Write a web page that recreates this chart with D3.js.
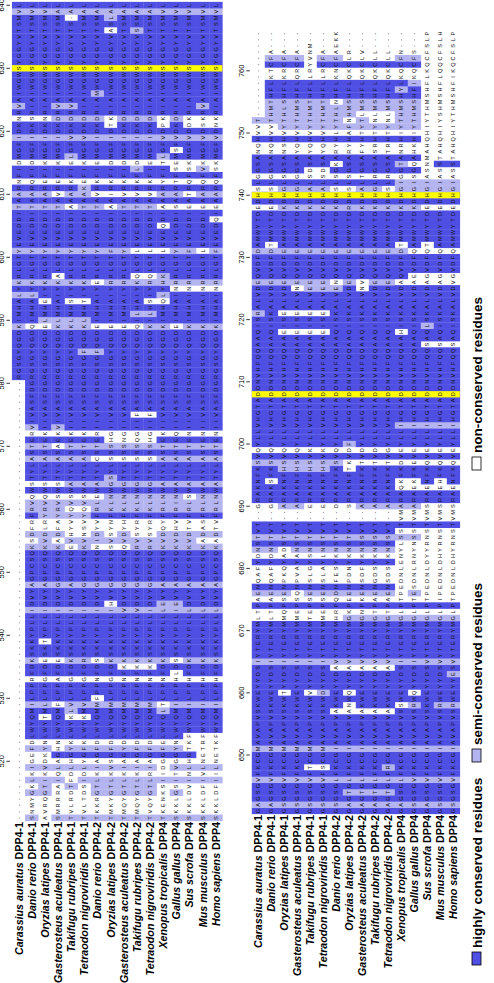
<!DOCTYPE html>
<html><head><meta charset="utf-8">
<script src="https://cdn.jsdelivr.net/npm/d3@7"></script>
<style>body{margin:0;background:#fff}svg{display:block}</style>
</head><body>
<svg id="c" width="494" height="983"></svg>
<script>
// ---------- DATA ----------
const speciesNames = ["Carassius auratus","Danio rerio","Oryzias latipes","Gasterosteus aculeatus","Takifugu rubripes","Tetraodon nigroviridis","Danio rerio","Oryzias latipes","Gasterosteus aculeatus","Takifugu rubripes","Tetraodon nigroviridis","Xenopus tropicalis","Gallus gallus","Sus scrofa","Mus musculus","Homo sapiens"];
const geneNames = ["DPP4-1","DPP4-1","DPP4-1","DPP4-1","DPP4-1","DPP4-1","DPP4-2","DPP4-2","DPP4-2","DPP4-2","DPP4-2","DPP4","DPP4","DPP4","DPP4","DPP4"];

const block1First = 511;
const block1Seqs = [
 ["--------------------","--------------------","------------------------------","RGSGYQGDKIMHALYKRLGTYEVEDDITAARNFIDMGFIDKNRVAIWGWSYGGYVTSMVL"],
 ["SNMYGKLKIGEFDLWYQMIL","PPRFDKSKKYPLLIDVYAGP","CSQKSDFRFRVQWSTYLASTERVIVASFDG","RGSGYQGDQIMHALYKRLGTYEVEDDITAARQFIDMGFIDKSRIAIWGWSYGGYVTSMVL"],
 ["AVRQGTIKVDKYNLWYTMLL","PPGFDESKTYPLLIDVYAGP","CSQKVDLRYRVQWSTYLASTEKIIVASFDG","RGSGYQGDELMHEIYKRLGTYEVEDDITAAREFIKMGFIDKNRIAIWGWSYGGYVTSMVL"],
 ["SMRRRAIQLAGHNLWYQMFL","PPAFDESKKYPLLIDVYGGP","CSQKADFAYRVSWSTYLASAEKVIVASFDG","RGSGYQGDKLMHAIYKALGTYEVEDDITAVREFIKMGFIDKDRVAIWGWSYGGYVTSMAL"],
 ["TVLRDTFDLHGYKLWYKLVL","PPGFDKSKKYPLLIDVYAGP","CSQEVHYVYQVSWATYLASTEKIIVASFDG","RGSGYQGDKLMHSIYKRLGTYEVEDDIAAARKFIELGFVDKDRVAIWGWSYGGYVTS-AL"],
 ["TVLTDSIDLYGFKLWYKMVL","PPGFDRSKKYPLLIDVYGGP","CSQKVNSVYQVSWATYLASTEKIIVASFDG","RGSGFQGDKLMHTIYKRLGTYEVEDDITAAKEFIKMGFVDKDRIAIWGWSYGGYVTSMAL"],
 ["TKKRGTLKIAGFDLWYQMMF","PPNFDSSKKYPLLIDVYGGP","CSQNIDYVFRLEWATYLCSTERIIVASFDG","RGSGFQGDEIMHAIYERLGTYEVEDDITAVRKFIEMGFIDKDRIAMWGWSYGGYVTSMAL"],
 ["TMKYGTLKVSGFDLWYQMML","PPGFDKSKKYPLLIHVYGGP","CSQSVSYNFKLNWGSYLSSSHGIIVASFDG","RGSGYQGDEIMHAIYRRLGTFEVEDDIAAIRKFIDMGFIDTKRIAIWGWSYGGYVASLAL"],
 ["TMQYGTLKIAGYDLWYQMML","PPNFKKSKKYPLLVDVYGGP","CSQQVDYHFKLNWGTYLSSSNGIIVASFDG","RGSGYQGDEIMHAIYRRLGTYEVEDDITAVRKFIDMGFIDKDRIAIWGWSYGGYVTSMAL"],
 ["TMQYGTLKIAGFDLWYQMML","PPNFKKSKKYPLLVDVYGGP","CSQRVSYRFKLNWGTYLSSSQGIIFASFDG","RGSGYQGDQILHAIYKQLGTLEVEDDITAVRKFLDMGFIDKDRIAIWGWSYGGYVSSMAL"],
 ["TVQYGTLRIAGFDLWYQMML","PPNFKKSKKYPLLIDVYGGP","CSQRVSYRFKLNWGTYLSSSHGIIFASFDG","RGSGYQGDKILHSIYRQLGTLEVEDDITAVRKFIEMGFIDKDRIAIWGWSYGGYVTSMAL"],
 ["TKENKSIIDGGFELWYQLTL","PPNFDKSKKYPLLLEVYAGP","CSQKVDQYFRLNWATYLASTEKIIVASFDG","RGSGYQGDKIMHQLYHKLGTLEVEQDIAAARYFITLGFVDPKRIAIWGWSYGGYVTSMVL"],
 ["SKKLGSITVGGYNLWYQMIL","PPHLDSSKKYPLLIEVYAGP","CSQKVDHVFRINWATYLASTEQIIVASFDG","RGSGYQGDEIMHAINRRLGTYEVEDDISAARTFSEMSFVDKDRIAIWGWSYGGYVTSMVL"],
 ["SKKLDVINLHGTKFWYQMIL","PPHFDKSKKYPLLLDVYAGP","CSQKVDTVFRLSWATYLASTENIIVASFDG","RGSGYQGDKIMHAINRRLGTFEVEDDIEATRQFSKMGFVDDKRIAIWGWSYGGYVTSMVL"],
 ["SKKLDFIVLNETRFWYQMIL","PPHFDKSKKYPLLLDVYAGP","CSQKADASFRLNWATYLASTENIIVASFDG","RGSGYQGDKIMHAINRRLGTLEVEDDIEAARQFVKMGFVDSKRVAIWGWSYGGYVTSMVL"],
 ["SKKLDFIILNETKFWYQMIL","PPHFDKSKKYPLLLDVYAGP","CSQKADTVFRLNWATYLASTENIIVASFDG","RGSGYQGDKIMHAINRRLGTFEVEDQIEAARQFSKMGFVDNKRIAIWGWSYGGYVTSMVL"]
].map(s => s.join(""));

const block2First = 641;
const block2Seqs = [
 ["GAGSGVFKCGMAVAPVSKWEYYDSIYTE","RYMLTPAENQAFYDNSTVT--GRAKNFKSVQY","LLVHGTADDNVHFQQAAQ","ISRALVDEQVDFDAMWYTDEDHSLGGSANQHVVT--------------"],
 ["GAGSGVFKCGMAVAPVSKWEYYDSIYTE","RYMLTPAENQAFYDNSTVT--GRAKSFKSVQY","LLVHGTADDNVHFQQAAQ","ISKALVDEQVDFDTMWYTDEDHSLGGSANQHVVTHMTHFLKTCFA---"],
 ["GSGSGVFKCGMAVAPVSKWTYYDSIYTE","RYMMQPSENPKQYADSTVT--ARAKNFHSVQY","LLVHGTADDNVHFQQAAE","ISEALVDEQVDFEAMWYTDKDHGLSGSANSHVYTHLSHFLKRCFA---"],
 ["GSGSGVFKCGMAVAPVSKWEYYDSIYTE","RYMMEPSQNPVAYANSTVT--ARAKNFHSVQY","LLVHGTADDNVHFQQAAE","ISEALVNEQVDFEAMWYTDKDHGLGGSAYQHVYTHMSHFLQRCFA---"],
 ["GSGSGVFTCGMAVAPVSKWVYYDSIYTE","RYMTEPSENSLGYSNSTVT--ERAKNFHSVKY","LLVHGTADDNVHFQQAAE","ISEALVEEQVDFEAMWYTDKDHALSDSAYQHVYTHMTHFLLRYVNM--"],
 ["GSGSGVFSCGMAVAPVSKWDYYDSIYTE","RYMMEPSENSLAYLNSTVT--ERAKNFHSVKY","LLVHGTADDNVHFQQAAE","ISEALVEEQVDFEAMWYTDKDHALSDSAYQHVYTHMTHFLLRCFA---"],
 ["GSGSGLFKCGIAVAPVAKWEYYDAVYTE","RYMHRPQDNFESYKNSTVT--DRAKNFKSVQY","LLVHGTADDNVHFQQAAQ","ISKALVENQVDFEAMWYTDKDHSLSGKARYHLYTHLNHFLKNCFAEKK"],
 ["GAGTGLFKCGIAVAPVANWQYYDAVYTE","RYMGKPEENPDNYKNSTVT--SRAKNFTKVDF","LLVHGTADDNVHFQQAAQ","ISKALVDEQVDFEAMWYTDRDHSLSGSARYHAFNHMSHFLQKCLR---"],
 ["GAGTGLFKCGIAVAPVAKWEYYDAVYTE","RYMGNPKENSDFYKNSSVT--ARAKNFKTVDY","LLVHGTADDNVHFQQAAQ","ISKALVNVQVDFEAMWYTDKDHALTGSAFYHTYTLMSHFLQKCLV---"],
 ["GAGTGLFKCGIAVAPVAKWEYYDAVYTE","RYMGTPAENGDSYKNSSVT--ARAKNFKTVDY","LLVHGTADDNVHFQQAAQ","ISKALVDEQVDFEAMWYTDKDHGLRGSASRHTYNLMSHFLQKCLL---"],
 ["GAGTGLFRCGIAVAPVAKWEYYDAVYTE","RYMGTPAENSDSYKNSSVT--ARAKNFKTVGY","LLVHGTADDNVHFQQAAQ","ISKALVDEQVDFEAMWYTDKDHSLRGSATRHTYNLMSHFLQKCLL---"],
 ["GAGSGLFKCGIAVAPVSSWEYYDSIYTE","RYMGLPTPEDNLENYLSSTVMARAQKFKDVEY","LLIHGTADDNVHFQQAAH","ISKALVDAQVDFDTMWYTDKDHGIGGTANRHIYTHMSHYLKQCFN---"],
 ["GSGSGVFKCGIAVAPVSRWQYYDSIYTE","RYMGLPTESDNLRNYNSSTVMARAEKFKEVEY","LLIHGTADDNVHFQQAAQ","ISKALVDAEVDFQAMWYTDKDHGISGQAHKHIYTHMSHFIKQCFS---"],
 ["GAGSGVFKCGIAVAPVSKWEYYDSVYTE","RYMGLPTPEDNLDYYRNSTVMSRAENFKQVEY","LLIHGTADDNVHFQQSAQ","LSKALVDAGVDFQTMWYTDEDHGIASNMAHQHIYTHMSHFLKQCFSLP"],
 ["GSGSGVFKCGIAVAPVSRWEYYDSVYTE","RYMGLPIPEDNLDHYRNSTVMSRAEHFKQVEY","LLIHGTADDNVHFQQSAQ","ISKALVDAGVDFQAMWYTDEDHGIASSTAHQHIYSHMSHFLQQCFSLH"],
 ["GSGSGVFKCGIAVAPVSRWEYYESVYTE","RYMGLPTPEDNLDHYRNSTVMSRAENFKQVEY","LLIHGTADDNVHFQQSAQ","ISKALVDVGVDFQAMWYTDEDHGIASSTAHQHIYTHMSHFIKQCFSLP"]
].map(s => s.join(""));

const block1Ticks = [520,530,540,550,560,570,580,590,600,610,620,630,640];
const block2Ticks = [650,660,670,680,690,700,710,720,730,740,750,760];
const catalyticSites = [630, 708, 740];
const legendLabels = ["highly conserved residues","semi-conserved residues","non-conserved residues"];
const legendClasses = ["high","semi","none"];

// ---------- STYLE / LAYOUT ----------
const COLORS = {high:"#4f4fe4", semi:"#b4b4f0", none:"#ffffff", site:"#ffff00"};
const W = 494, H = 983;
const svg = d3.select("#c");
svg.append("rect").attr("width",W).attr("height",H).attr("fill","#fff");
// rotated frame: X' = H - y, Y' = x
const g = svg.append("g").attr("transform",`translate(0,${H}) rotate(-90)`);

const groups = ["ILVM","FYW","KRH","DE","NQ","ST","AG"];
function groupOf(c){ for(const gr of groups) if(gr.includes(c)) return gr; return c; }

function shade(seqs){
  const n = seqs[0].length;
  const out = seqs.map(()=>[]);
  for(let j=0;j<n;j++){
    const cnt = {};
    seqs.forEach(s=>{const c=s[j]; if(c!=="-") cnt[c]=(cnt[c]||0)+1;});
    const gcnt = {};
    Object.keys(cnt).forEach(c=>{const k=groupOf(c); gcnt[k]=(gcnt[k]||0)+cnt[c];});
    seqs.forEach((s,i)=>{
      const c=s[j];
      let cls="none";
      if(c!=="-"){
        const k=cnt[c], gk=gcnt[groupOf(c)];
        if(k>=11) cls="high";
        else if(k>=7 || gk>=11) cls="semi";
      }
      out[i].push(cls);
    });
  }
  return out;
}

function drawBlock(cfg){
  const {seqs, first, ticks, x0, pitch, y0, step} = cfg;
  const n = seqs[0].length;
  const positions = d3.range(first, first+n);
  const xs = d3.scaleBand().domain(positions).range([x0 - pitch/2, x0 - pitch/2 + n*pitch]).padding(0);
  const ys = d3.scaleBand().domain(d3.range(seqs.length)).range([y0 - step/2, y0 - step/2 + seqs.length*step]).padding(0);
  const cls = shade(seqs);
  const bg = g.append("g");
  const cells = [];
  seqs.forEach((s,i)=>{ for(let j=0;j<n;j++) cells.push({i, pos:first+j, ch:s[j], cls:cls[i][j]}); });
  bg.selectAll("rect.cell").data(cells.filter(d=>d.cls!=="none")).join("rect")
    .attr("x",d=>xs(d.pos)).attr("y",d=>ys(d.i))
    .attr("width",xs.bandwidth()+0.3).attr("height",ys.bandwidth()+0.3)
    .attr("fill",d=>COLORS[d.cls]);
  bg.selectAll("rect.site").data(catalyticSites.filter(p=>p>=first && p<first+n)).join("rect")
    .attr("x",p=>xs(p)).attr("y",ys(0)).attr("width",xs.bandwidth())
    .attr("height",ys.bandwidth()*seqs.length).attr("fill",COLORS.site);
  g.append("g").selectAll("text").data(cells).join("text")
    .attr("x",d=>xs(d.pos)+xs.bandwidth()/2).attr("y",d=>ys(d.i)+ys.bandwidth()/2+2)
    .attr("text-anchor","middle").attr("font-family","Liberation Sans, Arial, sans-serif")
    .attr("font-size",5.6).attr("fill","#111").text(d=>d.ch);
  const lab = g.append("g").selectAll("text").data(seqs.map((s,i)=>i)).join("text")
    .attr("x",x0 - 4).attr("y",i=>ys(i)+ys.bandwidth()/2+4)
    .attr("text-anchor","end").attr("font-family","Liberation Sans, Arial, sans-serif")
    .attr("font-size",10.7).attr("font-weight","bold").attr("fill","#000");
  lab.append("tspan").attr("font-style","italic").text(i=>speciesNames[i]);
  lab.append("tspan").text(i=>" "+geneNames[i]);
  const tg = g.append("g");
  tg.selectAll("text").data(ticks).join("text")
    .attr("x",p=>xs(p)+xs.bandwidth()/2).attr("y",y0 - step/2 - 7.5)
    .attr("text-anchor","middle").attr("font-family","Liberation Sans, Arial, sans-serif")
    .attr("font-size",7.5).attr("fill","#000").text(p=>p);
  tg.selectAll("line").data(ticks).join("line")
    .attr("x1",p=>xs(p)+xs.bandwidth()/2).attr("x2",p=>xs(p)+xs.bandwidth()/2)
    .attr("y1",y0 - step/2 - 5.5).attr("y2",y0 - step/2 - 2)
    .attr("stroke","#000").attr("stroke-width",0.8);
}

drawBlock({seqs:block1Seqs, first:block1First, ticks:block1Ticks, x0:H-818, pitch:6.3, y0:18.5, step:13.15});
drawBlock({seqs:block2Seqs, first:block2First, ticks:block2Ticks, x0:H-811, pitch:6.22, y0:258.3, step:13.0});

const legX = [18, 221, 513];
const lg = g.append("g");
legendLabels.forEach((t,k)=>{
  lg.append("rect").attr("x",legX[k]).attr("y",472).attr("width",13).attr("height",9)
    .attr("fill",COLORS[legendClasses[k]]).attr("stroke","#000").attr("stroke-width",0.8);
  lg.append("text").attr("x",legX[k]+17).attr("y",482)
    .attr("font-family","Liberation Sans, Arial, sans-serif").attr("font-size",13.5).attr("font-weight","bold")
    .attr("fill","#000").text(t);
});
</script>
</body></html>
